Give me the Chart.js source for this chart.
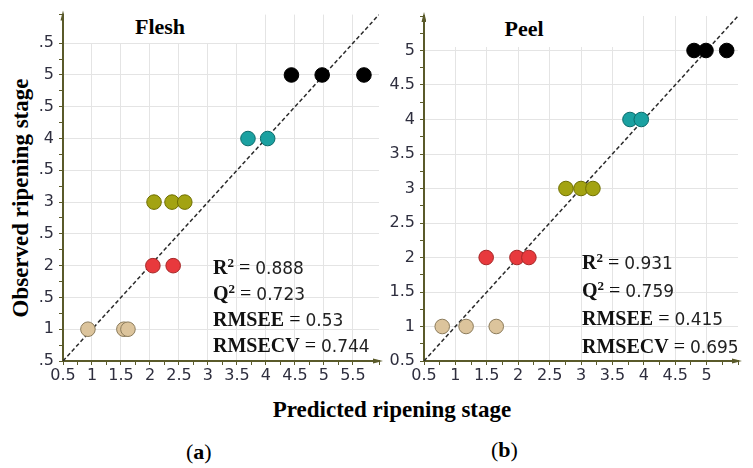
<!DOCTYPE html>
<html>
<head>
<meta charset="utf-8">
<script src="https://cdn.jsdelivr.net/npm/chart.js@4"></script>
<style>
  body { margin: 0; background: #fff; width: 753px; height: 468px; position: relative; overflow: hidden; font-family: "Liberation Serif", serif; }
  canvas { position: absolute; top: 0; }
  .box { position: absolute; background: #fff; }
  .title { position: absolute; font-weight: bold; font-size: 22px; text-align: center; line-height: 30px; }
  .stats { position: absolute; font-size: 20px; color: #111; white-space: nowrap; }
  .stats b { font-weight: bold; }
  .stats sup { font-size: 13px; vertical-align: 7px; line-height: 0; }
  .num { font-family: "DejaVu Sans", sans-serif; font-size: 17px; color: #222; }
  .axtitle { position: absolute; font-weight: bold; font-size: 23px; text-align: center; line-height: 28px; white-space: nowrap; }
  .cap { position: absolute; font-size: 22px; line-height: 26px; }
</style>
</head>
<body>
<canvas id="flesh" width="390" height="390" style="left:0"></canvas>
<canvas id="peel" width="363" height="390" style="left:390px"></canvas>

<div class="box" style="left:0;top:0;width:40px;height:400px"></div>
<div class="axtitle" style="left:-129px;top:184px;width:300px;transform:rotate(-90deg)">Observed ripening stage</div>

<div class="box title" style="left:64px;top:12px;width:192px;height:31px;">Flesh</div>
<div class="box title" style="left:426px;top:14px;width:196px;height:33px;">Peel</div>

<div class="stats" style="left:213px;top:255px;line-height:25px">
  <div><b>R<sup>2</sup></b> = <span class="num">0.888</span></div>
  <div><b>Q<sup>2</sup></b> = <span class="num">0.723</span></div>
  <div><b>RMSEE</b> = <span class="num">0.53</span></div>
  <div><b>RMSECV</b> = <span class="num">0.744</span></div>
</div>
<div class="stats" style="left:582px;top:249px;line-height:27px">
  <div><b>R<sup>2</sup></b> = <span class="num">0.931</span></div>
  <div><b>Q<sup>2</sup></b> = <span class="num">0.759</span></div>
  <div><b>RMSEE</b> = <span class="num">0.415</span></div>
  <div><b>RMSECV</b> = <span class="num">0.695</span></div>
</div>

<div class="axtitle" style="left:242px;top:396px;width:300px">Predicted ripening stage</div>
<div class="cap" style="left:186px;top:439px">(<b>a</b>)</div>
<div class="cap" style="left:491px;top:437px">(<b>b</b>)</div>

<script>
// observed ripening stages (y) and the predicted values (x) for each stage
const stages = [1, 2, 3, 4, 5];
const stageColors = ['#dcc49c', '#e8393d', '#a3a312', '#1ba1a1', '#000000'];
const stageBorders = ['#8b7b5b', '#a52828', '#6e6e00', '#0b6a6a', '#000000'];

const fleshStage1 = [0.93, 1.55, 1.62];
const fleshStage2 = [2.05, 2.40];
const fleshStage3 = [2.07, 2.38, 2.60];
const fleshStage4 = [3.69, 4.03];
const fleshStage5 = [4.44, 4.97, 5.69];

const peelStage1 = [0.79, 1.17, 1.65];
const peelStage2 = [1.49, 1.98, 2.17];
const peelStage3 = [2.76, 3.00, 3.19];
const peelStage4 = [3.78, 3.96];
const peelStage5 = [4.80, 4.99, 5.32];

// y = x reference line and axis ranges
const fleshRange = [0.5, 5.95];
const peelRange = [0.5, 5.5];
const fleshLabelMax = 5.5;
const peelLabelMax = 5;

const axisColor = '#5a5a2a';
const tickText = '#2e2e3e';

const axisArrows = {
  id: 'axisArrows',
  afterDraw(chart) {
    const { ctx, chartArea: a } = chart;
    ctx.save();
    ctx.fillStyle = axisColor;
    ctx.beginPath();
    ctx.moveTo(a.left, a.top - 4);
    ctx.lineTo(a.left - 2.5, a.top + 6);
    ctx.lineTo(a.left + 2.5, a.top + 6);
    ctx.closePath();
    ctx.fill();
    ctx.beginPath();
    ctx.moveTo(a.right + 4, a.bottom);
    ctx.lineTo(a.right - 6, a.bottom - 2.5);
    ctx.lineTo(a.right - 6, a.bottom + 2.5);
    ctx.closePath();
    ctx.fill();
    ctx.restore();
  }
};

function isHalf(v) {
  return Math.abs(v * 2 - Math.round(v * 2)) < 1e-6;
}

function makeScale(range, labelMax, fit) {
  const gridMax = labelMax === 5 ? 5 : 5.5;
  return {
    type: 'linear',
    min: range[0],
    max: range[1],
    afterFit: fit,
    border: { color: axisColor, width: 2 },
    grid: {
      tickLength: 4,
      tickColor: axisColor,
      lineWidth: 1,
      color: (c) => (c.tick && isHalf(c.tick.value) && c.tick.value <= gridMax + 1e-6) ? '#e4e4e4' : 'rgba(0,0,0,0)'
    },
    ticks: {
      stepSize: 0.25,
      autoSkip: false,
      maxRotation: 0,
      color: tickText,
      font: { family: '"DejaVu Sans", sans-serif', size: 16 },
      callback: (v) => (isHalf(v) && v <= labelMax + 1e-6) ? String(v) : ''
    }
  };
}

function buildChart(id, groups, range, labelMax, padding, yWidth) {
  const datasets = groups.map((xs, i) => ({
    label: 'Stage ' + stages[i],
    data: xs.map((x) => ({ x: x, y: stages[i] })),
    backgroundColor: stageColors[i],
    borderColor: stageBorders[i],
    borderWidth: 1,
    pointRadius: 7.3,
    pointHoverRadius: 7.3,
    order: 1
  }));
  datasets.push({
    label: 'y = x',
    data: range.map((v) => ({ x: v, y: v })),
    showLine: true,
    borderColor: '#2a2a2a',
    borderWidth: 1.5,
    borderDash: [4, 2.5],
    pointRadius: 0,
    order: 10
  });
  const yScale = makeScale(range, labelMax, (s) => { s.width = yWidth; });
  yScale.ticks.padding = 5;
  const xScale = makeScale(range, labelMax, (s) => { s.height = 25; });
  xScale.ticks.padding = 1;
  return new Chart(document.getElementById(id), {
    type: 'scatter',
    data: { datasets },
    options: {
      responsive: false,
      animation: false,
      layout: { padding },
      plugins: { legend: { display: false }, tooltip: { enabled: false } },
      scales: { x: xScale, y: yScale }
    },
    plugins: [axisArrows]
  });
}

buildChart('flesh',
  [fleshStage1, fleshStage2, fleshStage3, fleshStage4, fleshStage5],
  fleshRange, fleshLabelMax, { left: 23, top: 13, right: 11, bottom: 4 }, 40);
buildChart('peel',
  [peelStage1, peelStage2, peelStage3, peelStage4, peelStage5],
  peelRange, peelLabelMax, { left: 0, top: 16, right: 15, bottom: 4 }, 34);
</script>
</body>
</html>
